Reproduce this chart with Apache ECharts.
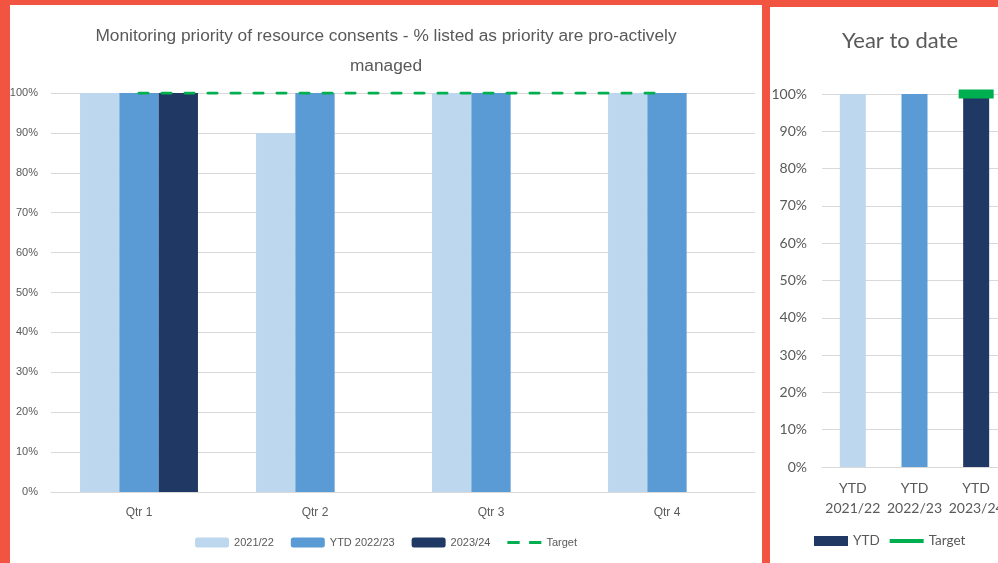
<!DOCTYPE html>
<html>
<head>
<meta charset="utf-8">
<script src="https://cdn.jsdelivr.net/npm/echarts@6/dist/echarts.min.js"></script>
<style>
  html, body { margin: 0; padding: 0; width: 998px; height: 563px; overflow: hidden; background: #F15441; }
  #left { position: absolute; left: 10px; top: 5px; width: 752px; height: 558px; background: #fff; }
  #right { position: absolute; left: 770px; top: 7px; width: 228px; height: 556px; background: #fff; }
</style>
</head>
<body>
<div id="left"></div>
<div id="right"></div>
<script>
// ---- Data ----
const quarters = ['Qtr 1', 'Qtr 2', 'Qtr 3', 'Qtr 4'];
const s2021 = [100, 90, 100, 100];
const sYtd2022 = [100, 100, 100, 100];
const s2023 = [100, null, null, null];
const targetQ = [100, 100, 100, 100];

const ytdCategories = ['YTD\n2021/22', 'YTD\n2022/23', 'YTD\n2023/24'];
const ytdValues = [100, 100, 100];
const ytdTarget = [null, null, 100];

const LIGHT = '#BDD7EE', MID = '#5B9BD5', DARK = '#203864', GREEN = '#00B050';
const TXT = '#595959', GRIDC = '#D9D9D9';
const SANS = '"Liberation Sans", Arial, sans-serif';
const CAL = 'Lato, "Open Sans", sans-serif';

// ---- Left chart ----
const left = echarts.init(document.getElementById('left'));
left.setOption({
  animation: false,
  title: {
    text: 'Monitoring priority of resource consents - % listed as priority are pro-actively\nmanaged',
    left: 371, top: 11, textAlign: 'center',
    textStyle: { fontFamily: SANS, fontSize: 17.3, fontWeight: 'normal', color: TXT, lineHeight: 30 }
  },
  legend: {
    bottom: 10, left: 'center',
    itemWidth: 34, itemHeight: 10, itemGap: 17,
    textStyle: { fontFamily: SANS, fontSize: 11, color: TXT },
    data: [
      { name: '2021/22' },
      { name: 'YTD 2022/23' },
      { name: '2023/24' },
      { name: 'Target', icon: 'path://M0 0H13V3H0Z M23 0H36V3H23Z' }
    ]
  },
  grid: { left: 41, top: 88, right: 7, bottom: 71, outerBoundsMode: 'none', containLabel: false },
  xAxis: {
    type: 'category', data: quarters,
    axisLine: { lineStyle: { color: GRIDC, width: 1 } },
    axisTick: { show: false },
    axisLabel: { fontFamily: SANS, fontSize: 12, color: TXT, margin: 15, interval: 0 }
  },
  yAxis: {
    type: 'value', min: 0, max: 100, interval: 10,
    axisLine: { show: false }, axisTick: { show: false },
    splitLine: { lineStyle: { color: GRIDC, width: 1 } },
    axisLabel: { fontFamily: SANS, fontSize: 11, color: TXT, margin: 13, formatter: v => v + '%' }
  },
  series: [
    { name: '2021/22', type: 'bar', data: s2021, barGap: '0%', barCategoryGap: '33%', itemStyle: { color: LIGHT } },
    { name: 'YTD 2022/23', type: 'bar', data: sYtd2022, barGap: '0%', barCategoryGap: '33%', itemStyle: { color: MID } },
    { name: '2023/24', type: 'bar', data: s2023, barGap: '0%', barCategoryGap: '33%', itemStyle: { color: DARK } },
    { name: 'Target', type: 'line', data: targetQ, symbol: 'none', z: 5,
      itemStyle: { color: GREEN },
      lineStyle: { color: GREEN, width: 3, type: [9, 14], cap: 'round' } }
  ]
});

// ---- Right chart ----
const right = echarts.init(document.getElementById('right'));
right.setOption({
  animation: false,
  title: {
    text: 'Year to date', left: 125, top: 18, textAlign: 'center',
    textStyle: { fontFamily: CAL, fontSize: 22, fontWeight: 'normal', color: TXT }
  },
  legend: {
    left: 39, bottom: 10,
    itemWidth: 34, itemHeight: 10, itemGap: 10,
    textStyle: { fontFamily: CAL, fontSize: 13.5, color: TXT },
    data: [
      { name: 'YTD', icon: 'rect' },
      { name: 'Target', icon: 'path://M0 0H36V4H0Z' }
    ]
  },
  grid: { left: 52, top: 87, width: 185, bottom: 96, outerBoundsMode: 'none', containLabel: false },
  xAxis: {
    type: 'category', data: ytdCategories,
    axisLine: { lineStyle: { color: GRIDC, width: 1 } },
    axisTick: { show: false },
    axisLabel: { fontFamily: CAL, fontSize: 14, color: TXT, margin: 11, lineHeight: 20, interval: 0 }
  },
  yAxis: {
    type: 'value', min: 0, max: 100, interval: 10,
    axisLine: { show: false }, axisTick: { show: false },
    splitLine: { lineStyle: { color: GRIDC, width: 1 } },
    axisLabel: { fontFamily: CAL, fontSize: 14, color: TXT, margin: 15, formatter: v => v + '%' }
  },
  series: [
    { name: 'YTD', type: 'bar', barWidth: 26,
      data: ytdValues.map((v, i) => ({ value: v, itemStyle: { color: [LIGHT, MID, DARK][i] } })),
      itemStyle: { color: DARK } },
    { name: 'Target', type: 'line', data: ytdTarget, symbol: 'rect', symbolSize: [35, 9], showSymbol: true, z: 5,
      itemStyle: { color: GREEN }, lineStyle: { color: GREEN, width: 4 } }
  ]
});
</script>
</body>
</html>
